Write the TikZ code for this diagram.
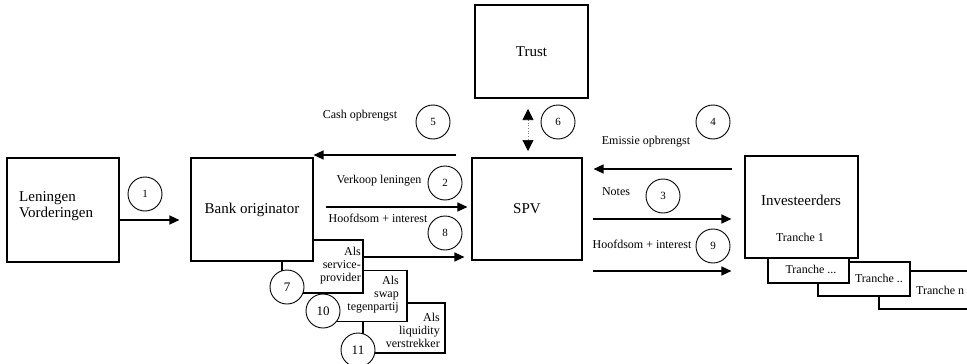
\documentclass[tikz,border=0pt]{standalone}
\usepackage{fontspec}
\setmainfont{Liberation Serif}
\usetikzlibrary{arrows.meta}

\begin{document}
\begin{tikzpicture}[x=1pt,y=-1pt,
  box/.style={draw, line width=1.1pt, fill=white, inner sep=0pt},
  bigtxt/.style={font=\fontsize{15}{16}\selectfont, inner sep=0pt},
  lbl/.style={font=\fontsize{12}{13}\selectfont, inner sep=0pt},
  num/.style={draw, circle, line width=0.9pt, fill=white, minimum size=34pt,
              inner sep=0pt, font=\fontsize{11}{12}\selectfont},
  bignum/.style={num, font=\fontsize{13}{14}\selectfont},
  flow/.style={line width=1.3pt, -{Triangle[length=10pt,width=9pt]}},
  twoway/.style={line width=0.7pt, dotted, gray,
                 {Triangle[length=11pt,width=11pt,color=black,fill=black]}-{Triangle[length=11pt,width=11pt,color=black,fill=black]}},
]
\useasboundingbox (0,0) rectangle (967,364);

% --- main parties ---
\node[box, minimum width=112pt, minimum height=104pt] (len) at (63,210) {};
\node[bigtxt, align=left, anchor=west] (lentxt) at (19,206) {Leningen\\Vorderingen};

% roles of the bank, stacked behind the bank box
\node[box, minimum width=82pt, minimum height=50pt] (liq) at (404,328) {};
\node[lbl, align=right, anchor=east] (liqtxt) at (440,330) {Als\\liquidity\\verstrekker};
\node[box, minimum width=81pt, minimum height=51pt] (swap) at (366.5,296) {};
\node[lbl, align=right, anchor=east] (swaptxt) at (399,295) {Als\\swap\\tegenpartij};
\node[box, minimum width=81pt, minimum height=53pt] (serv) at (322.5,266.5) {};
\node[lbl, align=right, anchor=east] (servtxt) at (361,266) {Als\\service-\\provider};
\node[box, bigtxt, minimum width=122pt, minimum height=103pt] (bank) at (252,209.5) {Bank originator};

\node[box, bigtxt, minimum width=113pt, minimum height=93pt] (trust) at (531.5,51.5) {Trust};
\node[box, bigtxt, minimum width=110pt, minimum height=102pt] (spv) at (527,209) {SPV};

% investors and their tranches
\node[box, minimum width=111pt, minimum height=38pt] (trn) at (934.5,290) {};
\node[lbl, anchor=west] (trntxt) at (916,290) {Tranche n};
\node[box, minimum width=92pt, minimum height=34pt] (trb) at (864,279) {};
\node[lbl] (trbtxt) at (879,278) {Tranche ..};
\node[box, minimum width=81pt, minimum height=35pt] (tra) at (808.5,265.5) {};
\node[lbl] (tratxt) at (811,269) {Tranche ...};
\node[box, minimum width=113pt, minimum height=102pt] (inv) at (801.5,207) {};
\node[bigtxt] (invtxt) at (801,200) {Investeerders};
\node[lbl] (tr1txt) at (800,237) {Tranche 1};

% --- flows ---
\coordinate (y1) at (0,220);
\coordinate (y5) at (0,155);
\coordinate (y2) at (0,207);
\coordinate (y8) at (0,257);
\coordinate (y4) at (0,169);
\coordinate (y3) at (0,219);
\coordinate (y9) at (0,271);
\coordinate (t6) at (528,109);
\coordinate (b6) at (528,151);

\draw[flow] (len.east |- y1) -- ([xshift=-11pt]bank.west |- y1);
\draw[flow] ([xshift=-15pt]spv.west |- y5) -- (bank.east |- y5);
\draw[flow] ([xshift=12pt]bank.east |- y2) -- ([xshift=-4pt]spv.west |- y2);
\draw[flow] (serv.east |- y8) -- ([xshift=-7pt]spv.west |- y8);
\draw[flow] ([xshift=-12pt]inv.west |- y4) -- ([xshift=11pt]spv.east |- y4);
\draw[flow] ([xshift=10pt]spv.east |- y3) -- ([xshift=-13pt]inv.west |- y3);
\draw[flow] ([xshift=10pt]spv.east |- y9) -- ([xshift=-13pt]inv.west |- y9);
\draw[twoway] (t6) -- (b6);

% --- flow labels ---
\node[lbl] (l5) at (360,116) {Cash opbrengst};
\node[lbl] (l2) at (379,181) {Verkoop leningen};
\node[lbl] (l8) at (378,218) {Hoofdsom + interest};
\node[lbl] (l4) at (646,142) {Emissie opbrengst};
\node[lbl] (l3) at (616,192) {Notes};
\node[lbl] (l9) at (642,244) {Hoofdsom + interest};

% --- step numbers ---
\node[num] (c1) at (145,194) {1};
\node[num] (c2) at (445,183) {2};
\node[num] (c3) at (663,196) {3};
\node[num] (c4) at (713,122) {4};
\node[num] (c5) at (433,122) {5};
\node[num] (c6) at (558,122) {6};
\node[bignum] (c7) at (287,287) {7};
\node[num] (c8) at (445,233) {8};
\node[num] (c9) at (713,246) {9};
\node[bignum] (c10) at (323,311) {10};
\node[bignum] (c11) at (358,350) {11};
\end{tikzpicture}
\end{document}
